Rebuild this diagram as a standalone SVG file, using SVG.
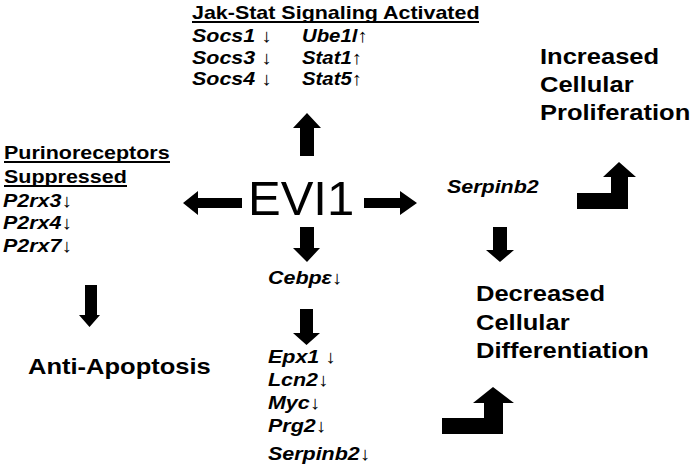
<svg xmlns="http://www.w3.org/2000/svg" width="696" height="470" viewBox="0 0 696 470">
<style>
text{font-family:"Liberation Sans",Arial,sans-serif;fill:#000}
.s{font-size:18.5px;font-weight:bold}
.i{font-style:italic}
.b{font-size:22px;font-weight:bold}
.ev{font-size:49px}
.ar{font-weight:normal;font-style:normal}
.ul{stroke:#000;stroke-width:1.8}
.arrow{fill:#000}
</style>
<rect width="696" height="470" fill="#fff"/>
<g id="jakstat">
<text class="s" transform="translate(192 19) scale(1.16 1)">Jak-Stat Signaling Activated</text>
<line class="ul" x1="192" y1="22" x2="479" y2="22"/>
<text class="s i" transform="translate(192 42) scale(1.16 1)">Socs1 <tspan class="ar">↓</tspan></text>
<text class="s i" transform="translate(192 63.5) scale(1.16 1)">Socs3 <tspan class="ar">↓</tspan></text>
<text class="s i" transform="translate(192 85) scale(1.16 1)">Socs4 <tspan class="ar">↓</tspan></text>
<text class="s i" transform="translate(302 42) scale(1.1 1)">Ube1l<tspan class="ar">↑</tspan></text>
<text class="s i" transform="translate(302 63.5) scale(1.1 1)">Stat1<tspan class="ar">↑</tspan></text>
<text class="s i" transform="translate(302 85) scale(1.1 1)">Stat5<tspan class="ar">↑</tspan></text>
</g>
<g id="purino">
<text class="s" transform="translate(4 159) scale(1.16 1)">Purinoreceptors</text>
<line class="ul" x1="4" y1="162" x2="170" y2="162"/>
<text class="s" transform="translate(4 183) scale(1.16 1)">Suppressed</text>
<line class="ul" x1="4" y1="186" x2="127" y2="186"/>
<text class="s i" transform="translate(3 207) scale(1.16 1)">P2rx3<tspan class="ar">↓</tspan></text>
<text class="s i" transform="translate(3 229) scale(1.16 1)">P2rx4<tspan class="ar">↓</tspan></text>
<text class="s i" transform="translate(3 252) scale(1.16 1)">P2rx7<tspan class="ar">↓</tspan></text>
</g>
<g id="evi1">
<text class="ev" x="248" y="215">EVI1</text>
</g>
<g id="cebpe">
<text class="s i" transform="translate(268 284) scale(1.16 1)">Cebpε<tspan class="ar">↓</tspan></text>
</g>
<g id="genes">
<text class="s i" transform="translate(268 363) scale(1.16 1)">Epx1 <tspan class="ar">↓</tspan></text>
<text class="s i" transform="translate(268 386) scale(1.16 1)">Lcn2<tspan class="ar">↓</tspan></text>
<text class="s i" transform="translate(268 409) scale(1.16 1)">Myc<tspan class="ar">↓</tspan></text>
<text class="s i" transform="translate(268 432) scale(1.16 1)">Prg2<tspan class="ar">↓</tspan></text>
<text class="s i" transform="translate(268 460) scale(1.16 1)">Serpinb2<tspan class="ar">↓</tspan></text>
</g>
<g id="antiapop">
<text class="b" transform="translate(28 374) scale(1.16 1)">Anti-Apoptosis</text>
</g>
<g id="serpinb2">
<text class="s i" transform="translate(447 193) scale(1.16 1)">Serpinb2</text>
</g>
<g id="prolif">
<text class="b" transform="translate(540 64) scale(1.16 1)">Increased</text>
<text class="b" transform="translate(540 92) scale(1.16 1)">Cellular</text>
<text class="b" transform="translate(540 120) scale(1.16 1)">Proliferation</text>
</g>
<g id="differ">
<text class="b" transform="translate(476 301) scale(1.16 1)">Decreased</text>
<text class="b" transform="translate(476 330) scale(1.16 1)">Cellular</text>
<text class="b" transform="translate(476 358) scale(1.16 1)">Differentiation</text>
</g>
<g id="connectors">
<polygon class="arrow" points="300,156 300,128 293,128 307,113 321,128 314,128 314,156"/>
<polygon class="arrow" points="242,198 198,198 198,191 183,203 198,215 198,208 242,208"/>
<polygon class="arrow" points="364,198 400,198 400,191 417,203 400,215 400,208 364,208"/>
<polygon class="arrow" points="300,227 314,227 314,248 320,248 307,262 293,248 300,248"/>
<polygon class="arrow" points="300,309 313,309 313,333 320,333 306.5,345 293,333 300,333"/>
<polygon class="arrow" points="493,227 507,227 507,250 514,250 500,262 486,250 493,250"/>
<polygon class="arrow" points="85,285 97,285 97,315 100,315 89.5,327 79,315 85,315"/>
<polygon class="arrow" points="577,193 611,193 611,177 603,177 619,162 636,177 628,177 628,209 577,209"/>
<polygon class="arrow" points="442,418 484,418 484,403 473,403 493,387 514,403 503,403 503,434 442,434"/>
</g>
</svg>
